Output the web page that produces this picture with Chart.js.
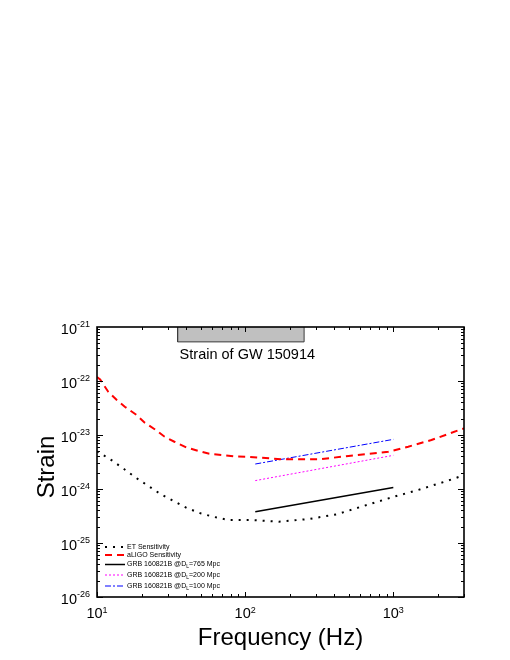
<!DOCTYPE html>
<html>
<head>
<meta charset="utf-8">
<script src="https://cdn.jsdelivr.net/npm/chart.js@4"></script>
<style>
  body { margin: 0; background: #fff; }
</style>
</head>
<body>
<canvas id="canvas" width="510" height="660"></canvas>
<script>
// ET and aLIGO sensitivity curves (Hz, strain)
const etFreq = [10, 12.7, 15.2, 18.3, 22.1, 26.8, 32.9, 40.4, 49.9, 61.9, 77.3, 108, 169, 269, 416, 629, 975, 1472, 2339, 3000];
const etStrain = [5.0e-24, 3.34e-24, 2.35e-24, 1.62e-24, 1.15e-24, 8.1e-25, 6.0e-25, 4.45e-25, 3.55e-25, 3.03e-25, 2.67e-25, 2.67e-25, 2.48e-25, 2.78e-25, 3.4e-25, 4.84e-25, 7.0e-25, 9.6e-25, 1.43e-24, 1.8e-24];

const ligoFreq = [10, 10.5, 11.9, 13.6, 15.4, 18.5, 21, 24.5, 28.6, 33.3, 40, 47.9, 57.3, 70.4, 84.4, 104, 178, 314, 499, 925, 1260, 1808, 2880, 3000];
const ligoStrain = [1.18e-22, 1.07e-22, 6.34e-23, 4.45e-23, 3.34e-23, 2.35e-23, 1.69e-23, 1.28e-23, 9.3e-24, 7.5e-24, 5.9e-24, 5.1e-24, 4.5e-24, 4.26e-24, 4.03e-24, 3.96e-24, 3.55e-24, 3.55e-24, 4.08e-24, 4.9e-24, 6.07e-24, 8.07e-24, 1.28e-23, 1.32e-23];

// GRB 160821B at three distances
const grbFreq = [117, 1000];
const grb765 = [3.8e-25, 1.07e-24];
const grb200 = [1.43e-24, 4.2e-24];
const grb100 = [2.9e-24, 8.3e-24];

// GW 150914 strain band
const gwFreq = [35, 250];
const gwStrain = [5.3e-22, 1e-21];
const gwLabel = 'Strain of GW 150914';

const xTicks = [10, 100, 1000];
const xTickExp = ['1', '2', '3'];
const yTicks = [1e-21, 1e-22, 1e-23, 1e-24, 1e-25, 1e-26];
const yTickExp = ['-21', '-22', '-23', '-24', '-25', '-26'];

const legendNames = [
  ['ET Sensitivity'],
  ['aLIGO Sensitivity'],
  ['GRB 160821B @D', 'L', '=765 Mpc'],
  ['GRB 160821B @D', 'L', '=200 Mpc'],
  ['GRB 160821B @D', 'L', '=100 Mpc']
];

const pts = (xs, ys) => xs.map((x, i) => ({ x: x, y: ys[i] }));
const FONT = '"Liberation Sans", Arial, sans-serif';

const frame = {
  id: 'frame',
  afterDraw(chart) {
    const { ctx, chartArea: a, scales: { x, y } } = chart;
    ctx.save();

    const seg = (x1, y1, x2, y2) => {
      ctx.beginPath(); ctx.moveTo(x1, y1); ctx.lineTo(x2, y2); ctx.stroke();
    };

    // inward ticks on all four sides
    ctx.strokeStyle = '#000';
    ctx.lineWidth = 1;
    for (let e = 1; e <= 3; e++) {
      for (let m = 1; m <= 9; m++) {
        const v = m * Math.pow(10, e);
        if (v > 3000) break;
        const px = Math.round(x.getPixelForValue(v)) + 0.5;
        const len = m === 1 ? 5 : 3;
        seg(px, a.bottom, px, a.bottom - len);
        seg(px, a.top, px, a.top + len);
      }
    }
    for (let e = -26; e < -21; e++) {
      for (let m = 1; m <= 9; m++) {
        const v = m * Math.pow(10, e);
        const py = Math.round(y.getPixelForValue(v)) + 0.5;
        const len = m === 1 ? 6 : 3;
        seg(a.left, py, a.left + len, py);
        seg(a.right, py, a.right - len, py);
      }
    }

    ctx.lineWidth = 1.6;
    ctx.strokeRect(a.left, a.top, a.right - a.left, a.bottom - a.top);

    // tick labels with superscripts
    ctx.fillStyle = '#000';
    ctx.textBaseline = 'alphabetic';
    const baseFont = '14.5px ' + FONT;
    const expFont = '9px ' + FONT;
    xTicks.forEach((v, i) => {
      ctx.font = baseFont; const wb = ctx.measureText('10').width;
      ctx.font = expFont; const we = ctx.measureText(xTickExp[i]).width;
      const x0 = x.getPixelForValue(v) - (wb + we) / 2;
      ctx.font = baseFont; ctx.textAlign = 'left';
      ctx.fillText('10', x0, a.bottom + 21);
      ctx.font = expFont;
      ctx.fillText(xTickExp[i], x0 + wb, a.bottom + 15.5);
    });
    yTicks.forEach((v, i) => {
      const py = y.getPixelForValue(v);
      ctx.font = expFont; const we = ctx.measureText(yTickExp[i]).width;
      ctx.font = baseFont; const wb = ctx.measureText('10').width;
      const x1 = a.left - 7;
      ctx.textAlign = 'left';
      ctx.fillText('10', x1 - we - wb, py + 6.5);
      ctx.font = expFont;
      ctx.fillText(yTickExp[i], x1 - we, py - 0.5);
    });

    // axis titles
    ctx.font = '24px ' + FONT;
    ctx.textAlign = 'center';
    ctx.fillText('Frequency (Hz)', (a.left + a.right) / 2, a.bottom + 48);
    ctx.save();
    ctx.translate(54, (a.top + a.bottom) / 2 + 5);
    ctx.rotate(-Math.PI / 2);
    ctx.fillText('Strain', 0, 0);
    ctx.restore();

    // label under the GW 150914 band
    ctx.font = '14.5px ' + FONT;
    ctx.textAlign = 'left';
    ctx.fillText(gwLabel, x.getPixelForValue(gwFreq[0]) + 2, y.getPixelForValue(gwStrain[0]) + 17);

    // legend in the lower left corner
    const rows = [547, 555, 564.5, 575, 586];
    const ds = chart.data.datasets.slice(1);
    ds.forEach((d, i) => {
      const ry = rows[i];
      ctx.save();
      ctx.strokeStyle = d.borderColor;
      ctx.lineWidth = d.borderWidth;
      ctx.setLineDash(d.borderDash || []);
      seg(a.left + 8, ry, a.left + 28, ry);
      ctx.restore();
      const parts = legendNames[i];
      let tx = a.left + 30;
      ctx.textBaseline = 'middle';
      ctx.font = '7px ' + FONT;
      ctx.fillText(parts[0], tx, ry);
      if (parts.length > 1) {
        tx += ctx.measureText(parts[0]).width;
        ctx.font = '5px ' + FONT;
        ctx.fillText(parts[1], tx, ry + 2.5);
        tx += ctx.measureText(parts[1]).width;
        ctx.font = '7px ' + FONT;
        ctx.fillText(parts[2], tx, ry);
      }
    });

    ctx.restore();
  }
};

new Chart(document.getElementById('canvas').getContext('2d'), {
  type: 'line',
  data: {
    datasets: [
      {
        data: [
          { x: gwFreq[0], y: gwStrain[1] }, { x: gwFreq[0], y: gwStrain[0] },
          { x: gwFreq[1], y: gwStrain[0] }, { x: gwFreq[1], y: gwStrain[1] }
        ],
        borderColor: '#3c3c3c',
        borderWidth: 1,
        backgroundColor: '#c0c0c0',
        fill: 'end'
      },
      {
        data: pts(etFreq, etStrain),
        borderColor: '#000000',
        borderWidth: 2,
        borderDash: [2, 6]
      },
      {
        data: pts(ligoFreq, ligoStrain),
        borderColor: '#ff0000',
        borderWidth: 2,
        borderDash: [7, 5]
      },
      {
        data: pts(grbFreq, grb765),
        borderColor: '#000000',
        borderWidth: 1.5
      },
      {
        data: pts(grbFreq, grb200),
        borderColor: '#ff00ff',
        borderWidth: 1,
        borderDash: [2, 2]
      },
      {
        data: pts(grbFreq, grb100),
        borderColor: '#0000ff',
        borderWidth: 1,
        borderDash: [6, 2, 2, 2]
      }
    ]
  },
  options: {
    responsive: false,
    animation: false,
    elements: { point: { radius: 0 }, line: { tension: 0 } },
    layout: { padding: { left: 97, top: 327, right: 46, bottom: 63 } },
    scales: {
      x: { type: 'logarithmic', min: 10, max: 3000, display: false },
      y: { type: 'logarithmic', min: 1e-26, max: 1e-21, display: false }
    },
    plugins: {
      legend: { display: false },
      tooltip: { enabled: false }
    }
  },
  plugins: [frame]
});
</script>
</body>
</html>
